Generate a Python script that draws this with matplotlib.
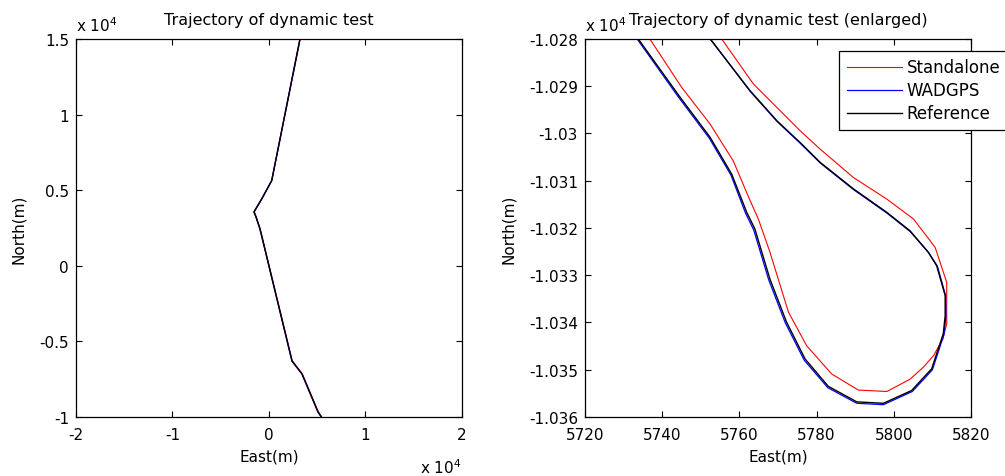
import matplotlib
matplotlib.use('Agg')
import matplotlib.pyplot as plt
from matplotlib.ticker import FuncFormatter

plt.rcParams['font.family'] = ['DejaVu Sans']
plt.rcParams['axes.unicode_minus'] = False

# route of the dynamic test, East / North in metres
# (overview part going south, then the turn-around loop)
ref_east = [3212, 280, -756, -1555, -1347, -933, 2383, 3420, 5078,
            5733.8, 5744.6, 5752.4, 5758.0, 5761.9, 5764.0, 5767.9, 5772.2, 5777.0,
            5783.0, 5790.4, 5797.3, 5804.6, 5809.8, 5812.8, 5813.3, 5813.3, 5811.1,
            5808.9, 5804.2, 5798.2, 5789.5, 5780.9, 5775.7, 5769.7, 5762.7, 5752.4]
ref_north = [15000, 5630, 4418, 3560, 3228, 2434, -6296, -7156, -9669,
             -10280.0, -10292.3, -10300.8, -10308.6, -10316.7, -10320.2, -10330.8,
             -10339.9, -10347.7, -10353.5, -10356.8, -10357.1, -10354.4, -10349.8,
             -10342.4, -10338.6, -10334.3, -10328.0, -10325.1, -10320.6, -10316.7,
             -10311.7, -10306.1, -10301.9, -10297.3, -10290.9, -10280.0]

wad_east = [3205, 275, -760, -1560, -1350, -936, 2380, 3416, 5072,
            5733.5, 5744.3, 5752.2, 5757.8, 5761.6, 5763.7, 5767.6, 5771.9, 5776.8,
            5782.9, 5790.4, 5797.3, 5804.8, 5810.0, 5813.0, 5813.5, 5813.4, 5811.3,
            5809.1, 5804.3, 5798.3, 5789.6, 5781.0, 5775.8, 5769.8, 5762.8, 5752.5]
wad_north = [15000, 5630, 4418, 3560, 3228, 2434, -6296, -7156, -9669,
             -10280.0, -10292.4, -10301.0, -10308.8, -10316.9, -10320.4, -10331.0,
             -10340.1, -10348.0, -10353.8, -10357.1, -10357.4, -10354.6, -10350.0,
             -10342.5, -10338.6, -10334.3, -10328.1, -10325.3, -10320.8, -10316.9,
             -10311.9, -10306.3, -10302.1, -10297.5, -10291.1, -10280.0]

sa_east = [3240, 300, -735, -1530, -1325, -910, 2410, 3450, 5110,
           5736.8, 5745.0, 5752.4, 5758.4, 5762.6, 5764.9, 5767.9, 5772.7, 5777.4,
           5783.9, 5790.8, 5798.2, 5804.2, 5807.6, 5810.3, 5812.7, 5813.7, 5813.7,
           5810.7, 5805.1, 5798.2, 5789.5, 5780.9, 5775.7, 5763.6, 5755.4]
sa_north = [15000, 5650, 4430, 3575, 3240, 2445, -6280, -7140, -9650,
            -10280.0, -10290.2, -10298.0, -10305.8, -10313.9, -10318.1, -10325.1,
            -10337.8, -10344.9, -10350.9, -10354.3, -10354.6, -10352.0, -10349.5,
            -10347.0, -10343.5, -10340.3, -10331.5, -10324.1, -10318.1, -10313.9,
            -10309.3, -10303.3, -10299.4, -10289.5, -10280.0]

labels = ['Standalone', 'WADGPS', 'Reference']
colors = ['red', 'blue', 'black']
widths = [0.8, 0.9, 1.0]

overview_xticks = [-20000, -10000, 0, 10000, 20000]
overview_yticks = [-10000, -5000, 0, 5000, 10000, 15000]
zoom_xticks = [5720, 5740, 5760, 5780, 5800, 5820]
zoom_yticks = [-10360, -10350, -10340, -10330, -10320, -10310, -10300, -10290, -10280]


def style_axes(ax):
    ax.tick_params(direction='in', top=True, right=True, length=4, width=0.8,
                   labelsize=11, pad=5, color='black')
    ax.tick_params(axis='x', pad=7)
    for sp in ax.spines.values():
        sp.set_linewidth(0.9)


def draw_tracks(ax):
    series = [(sa_east, sa_north), (wad_east, wad_north), (ref_east, ref_north)]
    for (e, n), lab, col, w in zip(series, labels, colors, widths):
        ax.plot(e, n, color=col, lw=w, label=lab)


fig = plt.figure(figsize=(10.05, 4.77), dpi=100)
ax1 = fig.add_axes([0.0756, 0.1237, 0.3841, 0.7925])
ax2 = fig.add_axes([0.5821, 0.1237, 0.3841, 0.7925])

# overview
draw_tracks(ax1)
ax1.set_xlim(-20000, 20000)
ax1.set_ylim(-10000, 15000)
ax1.set_xticks(overview_xticks)
ax1.set_yticks(overview_yticks)
e4 = FuncFormatter(lambda v, p: '%g' % (v / 1e4))
ax1.xaxis.set_major_formatter(e4)
ax1.yaxis.set_major_formatter(e4)
style_axes(ax1)
ax1.set_title('Trajectory of dynamic test', fontsize=11.5, pad=11)
ax1.set_xlabel('East(m)', fontsize=11, labelpad=5)
ax1.set_ylabel('North(m)', fontsize=11, labelpad=10)
ax1.text(0.0, 1.012, r'x 10$^{4}$', transform=ax1.transAxes, fontsize=11,
         ha='left', va='bottom')
ax1.text(1.0, -0.148, r'x 10$^{4}$', transform=ax1.transAxes, fontsize=11,
         ha='right', va='baseline')

# enlarged view of the turn
draw_tracks(ax2)
ax2.set_xlim(5720, 5820)
ax2.set_ylim(-10360, -10280)
ax2.set_xticks(zoom_xticks)
ax2.set_yticks(zoom_yticks)
ax2.yaxis.set_major_formatter(e4)
style_axes(ax2)
ax2.set_title('Trajectory of dynamic test (enlarged)', fontsize=11.5, pad=11)
ax2.set_xlabel('East(m)', fontsize=11, labelpad=5)
ax2.set_ylabel('North(m)', fontsize=11, labelpad=9)
ax2.text(0.0, 1.012, r'x 10$^{4}$', transform=ax2.transAxes, fontsize=11,
         ha='left', va='bottom')

leg = ax2.legend(loc='upper left', bbox_to_anchor=(0.835, 0.891),
                 bbox_transform=fig.transFigure, fontsize=12, fancybox=False,
                 framealpha=1, edgecolor='black', handlelength=3.3,
                 handletextpad=0.3, labelspacing=0.3, borderpad=0.45,
                 borderaxespad=0)
leg.get_frame().set_linewidth(0.9)

fig.savefig('out.png', dpi=100)
